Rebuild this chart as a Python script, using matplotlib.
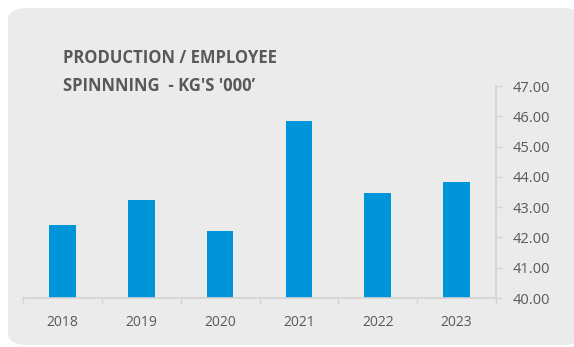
import matplotlib
matplotlib.use("Agg")
import matplotlib.pyplot as plt
from matplotlib.patches import FancyBboxPatch
import numpy as np

years = ['2018', '2019', '2020', '2021', '2022', '2023']
production = [42.40, 43.22, 42.22, 45.84, 43.47, 43.83]
y_ticks = [40, 41, 42, 43, 44, 45, 46, 47]

bar_color = '#0094d8'
text_color = '#595959'
line_color = '#d4d4d4'
panel_color = '#ebebeb'

plt.rcParams['font.family'] = ['Open Sans', 'DejaVu Sans']

fig = plt.figure(figsize=(5.74, 3.47), dpi=100)
fig.patch.set_facecolor('white')

# rounded grey card behind the chart
panel = FancyBboxPatch((8 / 574, 2 / 347), 1.0, (345 - 8) / 347,
                       boxstyle='round,pad=0,rounding_size=0.035',
                       transform=fig.transFigure, facecolor=panel_color,
                       edgecolor='none', zorder=-10)
fig.patches.append(panel)

ax = fig.add_axes([23 / 574, 1 - 298 / 347, (496 - 23) / 574, (298 - 86) / 347])
ax.set_facecolor('none')
ax.set_zorder(5)

x = np.arange(len(years))
ax.bar(x, production, width=0.34, color=bar_color, zorder=2)

ax.set_xlim(-0.5, len(years) - 0.5)
ax.set_ylim(40, 47)
ax.set_yticks(y_ticks)
ax.set_yticklabels([f'{v:.2f}' for v in y_ticks])
ax.yaxis.tick_right()

ax.set_xticks(x)
ax.set_xticklabels(years)
ax.set_xticks(np.arange(-0.5, len(years)), minor=True)
ax.tick_params(axis='x', which='major', length=0, pad=12, labelsize=10, labelcolor=text_color)
ax.tick_params(axis='x', which='minor', length=4, color=line_color, width=1)
ax.tick_params(axis='y', length=4, color=line_color, width=1, pad=8,
               labelsize=10.5, labelcolor=text_color)

for side in ['top', 'left']:
    ax.spines[side].set_visible(False)
for side in ['bottom', 'right']:
    ax.spines[side].set_color(line_color)
    ax.spines[side].set_linewidth(1.2)

fig.text(63 / 574, 1 - 58 / 347, 'PRODUCTION / EMPLOYEE', fontsize=12,
         fontweight='bold', color=text_color, va='center', ha='left')
fig.text(63 / 574, 1 - 86 / 347, "SPINNNING  - KG'S '000\u2019", fontsize=12,
         fontweight='bold', color=text_color, va='center', ha='left')

fig.savefig('out.png', dpi=100, facecolor='white')
